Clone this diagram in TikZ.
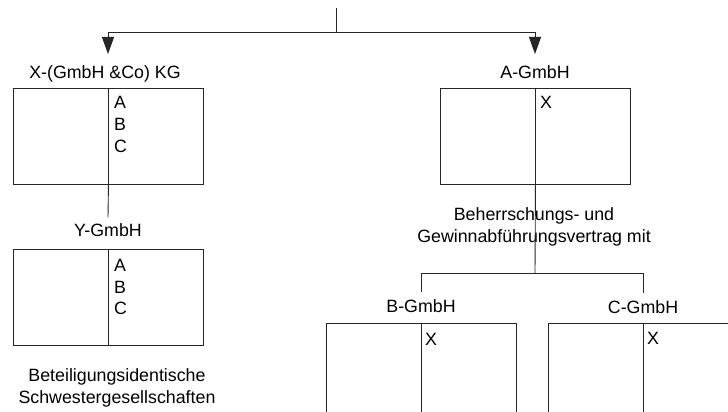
\documentclass[tikz,border=0pt]{standalone}
\usepackage{fontspec}
\setmainfont{Liberation Sans}
\usetikzlibrary{arrows.meta}
\begin{document}
\begin{tikzpicture}[x=1pt,y=-1pt,
  line/.style={draw=black!85, line width=0.9pt},
  company/.style={draw=black!85, line width=0.9pt, minimum width=190pt,
    minimum height=96pt, inner sep=0pt, anchor=north west},
  title/.style={font=\fontsize{17.8}{22}\selectfont, inner sep=0pt, anchor=base},
  entry/.style={font=\fontsize{17.8}{22}\selectfont, inner sep=0pt, anchor=west},
  note/.style={font=\fontsize{17.8}{22}\selectfont, inner sep=0pt, align=center},
  arr/.style={line, -{Triangle[length=17pt,width=12pt]}}
]
\clip (0,0) rectangle (728,412);

% company boxes
\node[company] (X) at (13,88) {};
\node[company] (Y) at (13,249) {};
\node[company] (A) at (440,88) {};
\node[company] (B) at (326,323) {};
\node[company] (C) at (548,323) {};
\foreach \b in {X,Y,A,B,C}
  \draw[line] (\b.north) -- (\b.south);

% company names
\node[title] (lblX) at (105,78.5) {X-(GmbH \&Co) KG};
\node[title] (lblA) at (535,78.5) {A-GmbH};
\node[title] (lblY) at (108,236.5) {Y-GmbH};
\node[title] (lblB) at (421,312.5) {B-GmbH};
\node[title] (lblC) at (643,313.5) {C-GmbH};

% shareholders
\node[entry] (xa) at (114,102) {A};
\node[entry] (xb) at (114,124) {B};
\node[entry] (xc) at (114,146) {C};
\node[entry] (ya) at (114,265) {A};
\node[entry] (yb) at (114,287) {B};
\node[entry] (yc) at (114,308) {C};
\node[entry] (ax) at (540,102) {X};
\node[entry] (bx) at (425,339) {X};
\node[entry] (cx) at (647,338) {X};

% notes
\node[note] (contract) at (534,227) {Beherrschungs- und\\Gewinnabführungsvertrag mit};
\node[note] (sisters) at (117,388) {Beteiligungsidentische\\Schwestergesellschaften};

% connectors
\coordinate (top) at (336,8);
\coordinate (fork) at (336,32);
\coordinate (tipX) at (108,54);
\coordinate (tipA) at (535,54);
\coordinate (split) at (535,273);
\draw[line] (top) -- (fork);
\draw[arr] (fork) -| (tipX);
\draw[arr] (fork) -| (tipA);
\draw[line] (X.south) -- ([yshift=6pt]lblY.north);
\draw[line] (A.south) -- (split);
\draw[line] (split) -| ([yshift=7pt]lblB.north);
\draw[line] (split) -| ([yshift=7pt]lblC.north);
\end{tikzpicture}
\end{document}
